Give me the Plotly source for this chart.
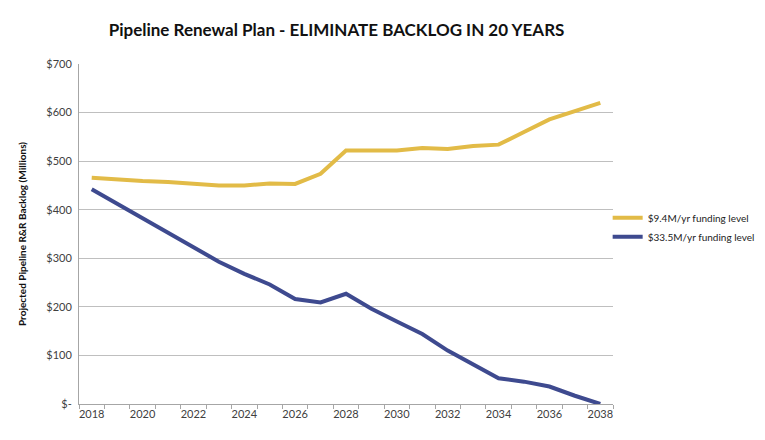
import plotly.graph_objects as go

years = list(range(2018, 2039))
low_funding = [466, 462, 459, 457, 454, 450, 450, 454, 453, 474, 522, 521, 522, 527, 525, 531, 534, 560, 586, 603, 620]
high_funding = [442, 412, 382, 352, 323, 293, 268, 246, 216, 209, 227, 196, 170, 144, 110, 82, 53, 46, 36, 17, 0]
series_names = ["$9.4M/yr funding level", "$33.5M/yr funding level"]
y_tickvals = [0, 100, 200, 300, 400, 500, 600, 700]
y_ticktext = ["$-", "$100", "$200", "$300", "$400", "$500", "$600", "$700"]
x_tickvals = list(range(2018, 2039, 2))

FONT = "Lato, Open Sans, sans-serif"

fig = go.Figure()
fig.add_trace(go.Scatter(x=years, y=low_funding, mode="lines", name=series_names[0],
                         line=dict(color="#E2BB47", width=4)))
fig.add_trace(go.Scatter(x=years, y=high_funding, mode="lines", name=series_names[1],
                         line=dict(color="#3E4A8F", width=4)))

# page body has an 8px margin, so the figure is offset by 8px
fig.update_layout(
    width=757, height=432,
    margin=dict(l=71, r=152, t=56, b=36, autoexpand=False),
    paper_bgcolor="white", plot_bgcolor="white",
    font=dict(family=FONT, color="#404040", size=11),
    title=dict(text="<b>Pipeline Renewal Plan - ELIMINATE BACKLOG IN 20 YEARS</b>",
               x=0.434, xanchor="center", y=0.949, yanchor="middle",
               font=dict(family=FONT, size=17, color="#111111")),
    showlegend=True,
    legend=dict(x=0.99, y=0.52, xanchor="left", yanchor="middle",
                font=dict(family=FONT, size=10, color="#222222"),
                itemwidth=30, tracegroupgap=6, bgcolor="rgba(0,0,0,0)"),
)
fig.update_xaxes(
    range=[2017.5, 2038.5], tickmode="array", tickvals=x_tickvals,
    ticks="", showgrid=False, zeroline=False,
    showline=True, linecolor="#A6A6A6", linewidth=1,
    tickfont=dict(size=11, color="#404040"),
    minor=dict(tickmode="array", tickvals=[y + 0.5 for y in range(2017, 2039)],
               ticks="outside", ticklen=4, tickcolor="#A6A6A6", showgrid=False),
)
fig.update_yaxes(
    range=[0, 700], tickmode="array", tickvals=y_tickvals, ticktext=y_ticktext,
    showgrid=True, gridcolor="#BFBFBF", gridwidth=1, zeroline=False,
    showline=True, linecolor="#A6A6A6", linewidth=1, ticks="",
    tickfont=dict(size=11, color="#404040"), ticklabelstandoff=4,
    title=dict(text="<b>Projected Pipeline R&R Backlog (Millions)</b>",
               font=dict(size=10, color="#111111"), standoff=17),
)

fig.write_html("out.html")
